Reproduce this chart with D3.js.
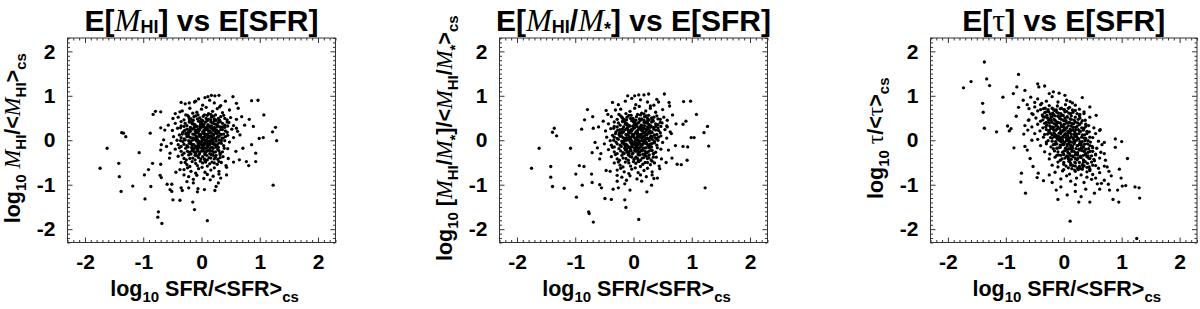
<!DOCTYPE html>
<html>
<head>
<meta charset="utf-8">
<script src="https://cdn.jsdelivr.net/npm/d3@7"></script>
<style>
body { margin: 0; background: #fff; }
svg text { font-family: "Liberation Sans", Arial, sans-serif; font-weight: bold; fill: #000; }
</style>
</head>
<body>
<div id="chart"></div>
<script>
//Axis ticks (same on all panels)
var majorTicks = [-2, -1, 0, 1, 2];

//Panel 1: log M_HI/<M_HI> vs log SFR/<SFR>, outlying points
var hiOuter = [[-1.74,-0.63],[-1.62,-0.18],[-1.37,0.17],[-1.34,0.16],[-1.3,0.08],[-1.42,-0.52],[-1.41,-0.82],
  [-1.38,-1.15],[-1.18,-1.03],[-1.07,-0.28],[-0.97,-1.32],[-0.98,-0.78],[-0.91,-0.66],[-0.87,-1.04],[-0.84,-0.52],
  [-0.88,0.16],[-0.83,0.58],[-0.79,0.65],[-0.7,0.64],[-0.74,-1.61],[-0.75,-1.73],[-0.68,-1.87],[-0.7,-0.54],
  [-0.71,-0.79],[-0.69,-0.84],[-0.59,-0.99],[-0.51,-0.99],[-0.54,-1.11],[-0.51,-1.15],[-0.49,-1.34],[-0.37,-1.35],
  [-0.35,-1.07],[-0.33,-1.13],[-0.22,-1.07],[-0.15,-1.39],[-0.12,-1.56],[-0.06,-1.09],[-0.07,-1.16],[0.05,-1.11],
  [0.1,-1.81],[0.23,-1.13],[0.25,-1.04],[0.29,-0.96],[0.43,-0.78],[0.54,0.98],[0.6,0.83],[0.63,0.72],[0.86,0.89],
  [0.97,0.9],[1.07,0.57],[1.22,0.19],[1.27,0.29],[1.29,-0.01],[1.23,-1.01],[0.93,-0.48],[0.93,-0.29],[0.81,-0.57],
  [0.77,-0.48],[1.06,0.06],[0.99,0.04],[0.86,-0.1],[0.82,0.47],[0.89,0.31],[0.74,0.34],[0.69,0.53],[0.3,1.01],
  [0.23,1.0],[0.17,1.01],[0.11,0.98],[0.06,0.96],[-0.1,0.88],[-0.21,0.84],[-0.35,0.85],[-0.37,0.64],[-0.45,0.6],
  [-0.49,0.49],[-0.57,0.34],[-0.63,0.23],[-0.7,0.28],[-0.65,0.01],[-0.69,-0.1],[-0.6,-0.14],[-0.7,-0.22],
  [-0.54,-0.29],[-0.55,-0.4],[-0.44,-0.72],[-0.37,-0.66],[-0.25,-0.93],[-0.14,-0.96],[0.15,-0.89],[0.3,-0.76],
  [0.43,-0.61],[0.55,-0.49],[0.65,-0.44],[0.59,-0.25],[0.71,-0.18],[0.66,0.12],[0.6,0.27]];

//Panel 1: central cloud
var hiCore = [[-0.28,0.82],[-0.12,0.86],[0.02,0.79],[0.14,0.9],[0.22,0.84],[0.33,0.78],[0.41,0.88],[-0.05,0.93],
  [-0.33,0.66],[-0.2,0.72],[-0.08,0.63],[0,0.7],[0.08,0.74],[0.19,0.65],[0.27,0.71],[0.36,0.62],[0.48,0.68],[-0.15,0.61],[0.12,0.6],[0.31,0.75],
  [-0.4,0.52],[-0.27,0.57],[-0.18,0.48],[-0.1,0.55],[-0.03,0.5],[0.05,0.57],[0.12,0.47],[0.2,0.54],[0.29,0.49],[0.38,0.56],[0.5,0.51],[0.6,0.47],[-0.22,0.53],[0,0.46],[0.16,0.58],[0.25,0.45],[0.44,0.46],
  [-0.45,0.38],[-0.35,0.42],[-0.25,0.33],[-0.17,0.4],[-0.11,0.35],[-0.05,0.43],[0.01,0.37],[0.07,0.41],[0.13,0.32],[0.19,0.39],[0.25,0.36],[0.32,0.42],[0.4,0.34],[0.47,0.4],[0.55,0.33],[-0.3,0.31],[-0.08,0.31],[0.04,0.3],[0.22,0.44],[0.36,0.3],[-0.2,0.45],[0.1,0.44],
  [-0.5,0.22],[-0.41,0.27],[-0.32,0.18],[-0.25,0.25],[-0.19,0.2],[-0.13,0.28],[-0.08,0.17],[-0.03,0.24],[0.02,0.19],[0.07,0.27],[0.12,0.21],[0.17,0.16],[0.23,0.26],[0.29,0.2],[0.36,0.24],[0.44,0.18],[0.52,0.25],[0.62,0.2],[-0.36,0.28],[-0.22,0.15],[-0.1,0.23],[0,0.29],[0.05,0.15],[0.15,0.29],[0.26,0.15],[0.4,0.29],[-0.16,0.25],[0.1,0.26],[0.2,0.22],[-0.05,0.2],
  [-0.48,0.08],[-0.38,0.12],[-0.3,0.03],[-0.23,0.1],[-0.17,0.05],[-0.12,0.13],[-0.07,0.02],[-0.02,0.09],[0.03,0.04],[0.08,0.12],[0.13,0.06],[0.18,0.1],[0.24,0.02],[0.3,0.09],[0.37,0.05],[0.45,0.11],[0.55,0.06],[-0.42,0],[-0.27,0.14],[-0.14,0.01],[-0.04,0.14],[0.01,0],[0.06,0.08],[0.11,0.14],[0.16,0.01],[0.21,0.13],[0.27,0.07],[0.34,0.13],[-0.2,0.07],[-0.09,0.09],[0,0.06],
  [-0.52,-0.07],[-0.4,-0.1],[-0.32,-0.03],[-0.25,-0.12],[-0.19,-0.05],[-0.13,-0.1],[-0.08,-0.02],[-0.03,-0.08],[0.02,-0.13],[0.07,-0.04],[0.12,-0.09],[0.17,-0.01],[0.23,-0.11],[0.3,-0.06],[0.38,-0.12],[0.48,-0.04],[-0.35,-0.14],[-0.22,-0.01],[-0.1,-0.14],[0,-0.03],[0.05,-0.1],[0.1,-0.14],[0.15,-0.06],[0.2,-0.04],[0.26,-0.14],[0.34,-0.01],[-0.16,-0.13],[-0.05,-0.12],[0.09,-0.01],
  [-0.45,-0.2],[-0.35,-0.25],[-0.27,-0.18],[-0.2,-0.27],[-0.14,-0.21],[-0.08,-0.16],[-0.03,-0.28],[0.03,-0.2],[0.09,-0.25],[0.15,-0.17],[0.21,-0.27],[0.28,-0.21],[0.36,-0.26],[0.45,-0.19],[-0.3,-0.29],[-0.17,-0.17],[-0.06,-0.23],[0,-0.17],[0.06,-0.29],[0.12,-0.22],[0.18,-0.24],[0.25,-0.16],[0.32,-0.29],[-0.1,-0.29],
  [-0.4,-0.36],[-0.3,-0.41],[-0.22,-0.33],[-0.15,-0.4],[-0.08,-0.35],[-0.01,-0.42],[0.06,-0.32],[0.13,-0.39],[0.2,-0.34],[0.28,-0.43],[0.37,-0.37],[-0.26,-0.44],[-0.11,-0.44],[0.02,-0.37],[0.1,-0.44],[0.16,-0.31],[0.24,-0.38],[0.46,-0.41],
  [-0.35,-0.5],[-0.25,-0.55],[-0.16,-0.48],[-0.07,-0.57],[0.02,-0.51],[0.1,-0.58],[0.18,-0.49],[0.27,-0.54],[-0.2,-0.59],[-0.02,-0.47],[0.06,-0.46],[0.14,-0.53],[0.34,-0.5],[0.42,-0.57],
  [-0.3,-0.66],[-0.18,-0.7],[-0.05,-0.64],[0.06,-0.72],[0.16,-0.67],[0.3,-0.7],[-0.1,-0.74],[0.22,-0.62],[0.01,-0.61],[-0.24,-0.62],
  [-0.22,-0.82],[-0.08,-0.79],[0.04,-0.86],[0.2,-0.81],[-0.14,-0.88],[0.1,-0.77],[0.33,-0.85],[-0.3,-0.78],
  [-0.15,0.05],[-0.1,0.18],[-0.05,-0.06],[0.04,0.16],[0.09,-0.07],[0.14,0.2],[0.19,0.05],[-0.18,-0.08],[-0.12,0.3],[-0.02,0.34],[0.05,0.22],[0.11,0.35],[0.17,0.27],[0.22,-0.08],[-0.07,-0.2],[0.02,-0.24],[0.08,-0.18],[-0.13,-0.26],[0.14,-0.3],[0.24,0.18],[-0.22,0.2],[-0.02,0.12],[0.07,0],[0.12,0.09],[-0.09,0.06],[0.03,-0.15],[0.18,-0.16],[-0.16,0.37],[0.27,0.3],[0,0.4]];

//Panel 1: solid black centre of the cloud
var hiFill = [[-0.24,0.56],[-0.13,0.53],[-0.06,0.57],[0.03,0.54],[0.1,0.56],[0.17,0.52],[0.24,0.57],[0.33,0.53],
  [-0.3,0.46],[-0.21,0.49],[-0.14,0.45],[-0.07,0.48],[0.02,0.44],[0.08,0.49],[0.16,0.46],[0.22,0.48],[0.31,0.45],[0.4,0.49],
  [-0.28,0.38],[-0.21,0.41],[-0.14,0.37],[-0.02,0.4],[0.04,0.36],[0.16,0.41],[0.22,0.37],[0.29,0.4],[0.36,0.38],[0.44,0.41],
  [-0.35,0.32],[-0.19,0.29],[-0.12,0.33],[-0.03,0.3],[0.02,0.33],[0.09,0.3],[0.17,0.32],[0.22,0.29],[0.28,0.33],[0.32,0.3],[0.45,0.32],
  [-0.29,0.22],[-0.21,0.24],[-0.11,0.21],[-0.06,0.25],[0.04,0.22],[0.09,0.24],[0.14,0.21],[0.2,0.25],[0.26,0.22],[0.33,0.24],[0.41,0.21],
  [-0.33,0.14],[-0.26,0.16],[-0.15,0.14],[-0.1,0.17],[-0.01,0.13],[0.04,0.16],[0.1,0.14],[0.15,0.17],[0.21,0.13],[0.3,0.16],[0.38,0.14],
  [-0.35,0.06],[-0.25,0.08],[-0.14,0.05],[-0.04,0.09],[0.01,0.06],[0.05,0.08],[0.1,0.05],[0.15,0.09],[0.22,0.06],[0.28,0.08],[0.35,0.05],[0.41,0.08],
  [-0.36,-0.01],[-0.28,0.01],[-0.18,-0.02],[-0.1,0.01],[-0.05,-0.02],[0.04,0.01],[0.12,-0.02],[0.19,0.01],[0.25,-0.02],[0.3,0.01],[0.4,-0.01],
  [-0.3,-0.09],[-0.21,-0.07],[-0.15,-0.1],[-0.06,-0.08],[0,-0.1],[0.04,-0.07],[0.14,-0.1],[0.19,-0.08],[0.27,-0.1],[0.34,-0.07],
  [-0.38,-0.17],[-0.23,-0.15],[-0.12,-0.18],[-0.04,-0.16],[0.05,-0.18],[0.11,-0.15],[0.2,-0.18],[0.29,-0.16],[0.39,-0.18],
  [-0.24,-0.25],[-0.16,-0.23],[-0.09,-0.26],[0,-0.24],[0.06,-0.26],[0.14,-0.23],[0.24,-0.26],[0.3,-0.24],
  [-0.33,-0.33],[-0.18,-0.31],[-0.11,-0.34],[-0.04,-0.32],[0.09,-0.34],[0.17,-0.32],[0.25,-0.34],[0.32,-0.32],
  [-0.2,-0.41],[-0.05,-0.39],[0.05,-0.42],[0.16,-0.4],[0.22,-0.42],[0.32,-0.39],
  [-0.28,-0.5],[-0.1,-0.52],[0.07,-0.49],[0.22,-0.51],[0.3,-0.48]];

//Panel 2: log (M_HI/M*)/<M_HI/M*> vs log SFR/<SFR>, outlying points
var fracOuter = [[-1.75,-0.63],[-1.62,-0.18],[-1.36,0.27],[-1.39,0.18],[-1.32,0.1],[-1.42,-0.59],[-1.42,-0.83],
  [-1.39,-1.04],[-1.19,-1.08],[-1.08,-0.18],[-0.98,-1.28],[-0.99,-0.76],[-0.93,-0.57],[-0.88,-1.01],[-0.85,-0.59],
  [-0.89,0.25],[-0.84,0.46],[-0.79,0.69],[-0.7,0.53],[-0.77,-1.61],[-0.76,-1.65],[-0.69,-1.84],[-0.71,-0.28],
  [-0.72,-0.76],[-0.71,-0.95],[-0.58,-1],[-0.55,-1.07],[-0.49,-1.31],[-0.38,-1.33],[-0.35,-1.1],[-0.26,-1.07],
  [-0.15,-1.34],[-0.13,-1.51],[-0.06,-1.12],[0.09,-1.78],[0.23,-1.16],[0.31,-1.01],[0.41,-0.85],[0.53,1.04],
  [0.61,0.85],[0.62,0.77],[0.86,0.87],[0.98,0.88],[1.08,0.58],[1.21,0.17],[1.27,0.31],[1.29,-0.13],[1.23,-1.07],
  [0.92,-0.45],[0.93,-0.15],[0.82,-0.55],[0.75,-0.54],[0.99,0.06],[1.04,0.06],[0.85,-0.14],[0.85,0.36],[0.9,0.43],
  [0.73,0.37],[0.67,0.57],[0.26,1.04],[0.18,1.02],[0.09,1.02],[-0.1,1],[-0.36,0.85],[-0.47,0.67],[-0.69,0.27],
  [-0.66,-0.05],[-0.62,-0.17],[-0.56,-0.3],[-0.58,-0.42],[-0.47,-0.68],[-0.4,-0.7],[-0.28,-0.92],[-0.15,-0.98],
  [0.14,-0.92],[0.32,-0.78],[0.45,-0.64],[0.56,-0.5],[0.66,-0.4],[0.6,-0.22],[0.72,-0.12],[0.65,0.15],[0.58,0.3],
  [-0.52,0.43],[-0.6,0.3],[-0.44,0.58],[0.02,1.0],[0.4,0.92]];

//Panel 2: central cloud
var fracCore = [[-0.26,0.8],[-0.14,0.88],[0.04,0.8],[0.12,0.91],[0.24,0.86],[0.35,0.79],[0.43,0.86],[-0.03,0.94],
  [-0.31,0.68],[-0.22,0.7],[-0.06,0.65],[0.02,0.72],[0.1,0.76],[0.21,0.66],[0.29,0.72],[0.38,0.63],[0.5,0.69],[-0.13,0.6],[0.14,0.61],[0.29,0.77],
  [-0.38,0.53],[-0.25,0.58],[-0.16,0.47],[-0.08,0.56],[-0.01,0.49],[0.07,0.58],[0.14,0.48],[0.22,0.55],[0.31,0.5],[0.4,0.55],[0.52,0.52],[0.58,0.45],[-0.2,0.52],[0.02,0.45],[0.18,0.59],[0.27,0.46],[0.46,0.47],
  [-0.43,0.37],[-0.33,0.41],[-0.23,0.34],[-0.15,0.41],[-0.09,0.34],[-0.03,0.44],[0.03,0.38],[0.09,0.4],[0.15,0.33],[0.21,0.4],[0.27,0.35],[0.34,0.43],[0.42,0.35],[0.49,0.39],[0.57,0.32],[-0.28,0.3],[-0.06,0.32],[0.06,0.31],[0.24,0.43],[0.38,0.31],[-0.18,0.44],[0.12,0.45],
  [-0.48,0.21],[-0.39,0.26],[-0.3,0.19],[-0.23,0.24],[-0.17,0.19],[-0.11,0.27],[-0.06,0.18],[-0.01,0.25],[0.04,0.18],[0.09,0.26],[0.14,0.22],[0.19,0.17],[0.25,0.25],[0.31,0.19],[0.38,0.23],[0.46,0.17],[0.54,0.24],[0.63,0.19],[-0.34,0.27],[-0.2,0.16],[-0.08,0.22],[0.02,0.28],[0.07,0.16],[0.17,0.28],[0.28,0.16],[0.42,0.28],[-0.14,0.24],[0.12,0.27],[0.22,0.21],[-0.03,0.21],
  [-0.46,0.07],[-0.36,0.11],[-0.28,0.04],[-0.21,0.09],[-0.15,0.04],[-0.1,0.12],[-0.05,0.03],[0,0.1],[0.05,0.03],[0.1,0.11],[0.15,0.05],[0.2,0.11],[0.26,0.03],[0.32,0.08],[0.39,0.04],[0.47,0.1],[0.57,0.05],[-0.4,-0.01],[-0.25,0.13],[-0.12,0],[-0.02,0.13],[0.03,-0.01],[0.08,0.07],[0.13,0.13],[0.18,0],[0.23,0.12],[0.29,0.06],[0.36,0.12],[-0.18,0.06],[-0.07,0.08],[0.02,0.05],
  [-0.5,-0.08],[-0.38,-0.11],[-0.3,-0.04],[-0.23,-0.11],[-0.17,-0.06],[-0.11,-0.11],[-0.06,-0.03],[-0.01,-0.09],[0.04,-0.12],[0.09,-0.05],[0.14,-0.1],[0.19,-0.02],[0.25,-0.12],[0.32,-0.07],[0.4,-0.11],[0.5,-0.05],[-0.33,-0.15],[-0.2,-0.02],[-0.08,-0.15],[0.02,-0.04],[0.07,-0.11],[0.12,-0.15],[0.17,-0.07],[0.22,-0.05],[0.28,-0.15],[0.36,-0.02],[-0.14,-0.14],[-0.03,-0.13],[0.11,-0.02],
  [-0.43,-0.21],[-0.33,-0.26],[-0.25,-0.19],[-0.18,-0.28],[-0.12,-0.22],[-0.06,-0.17],[-0.01,-0.29],[0.05,-0.21],[0.11,-0.26],[0.17,-0.18],[0.23,-0.28],[0.3,-0.22],[0.38,-0.27],[0.47,-0.2],[-0.28,-0.3],[-0.15,-0.18],[-0.04,-0.24],[0.02,-0.18],[0.08,-0.3],[0.14,-0.23],[0.2,-0.25],[0.27,-0.17],[0.34,-0.3],[-0.08,-0.3],
  [-0.38,-0.37],[-0.28,-0.42],[-0.2,-0.34],[-0.13,-0.41],[-0.06,-0.36],[0.01,-0.43],[0.08,-0.33],[0.15,-0.4],[0.22,-0.35],[0.3,-0.44],[0.39,-0.38],[-0.24,-0.45],[-0.09,-0.45],[0.04,-0.38],[0.12,-0.45],[0.18,-0.32],[0.26,-0.39],[0.48,-0.42],
  [-0.33,-0.51],[-0.23,-0.56],[-0.14,-0.49],[-0.05,-0.58],[0.04,-0.52],[0.12,-0.59],[0.2,-0.5],[0.29,-0.55],[-0.18,-0.6],[0,-0.48],[0.08,-0.47],[0.16,-0.54],[0.36,-0.51],[0.44,-0.58],
  [-0.28,-0.67],[-0.16,-0.71],[-0.03,-0.65],[0.08,-0.73],[0.18,-0.68],[0.32,-0.71],[-0.08,-0.75],[0.24,-0.63],[0.03,-0.62],[-0.22,-0.63],
  [-0.2,-0.83],[-0.06,-0.8],[0.06,-0.87],[0.22,-0.82],[-0.12,-0.9],[0.12,-0.78],[0.35,-0.86],[-0.28,-0.79],
  [-0.13,0.04],[-0.08,0.17],[-0.03,-0.07],[0.06,0.15],[0.11,-0.08],[0.16,0.19],[0.21,0.04],[-0.16,-0.09],[-0.1,0.29],[0,0.33],[0.07,0.21],[0.13,0.34],[0.19,0.26],[0.24,-0.09],[-0.05,-0.21],[0.04,-0.25],[0.1,-0.19],[-0.11,-0.27],[0.16,-0.31],[0.26,0.17],[-0.2,0.19],[0,0.11],[0.09,-0.01],[0.14,0.08],[-0.07,0.05],[0.05,-0.16],[0.2,-0.17],[-0.14,0.36],[0.29,0.29],[0.02,0.39]];

//Panel 2: solid black centre of the cloud
var fracFill = [[-0.22,0.55],[-0.11,0.52],[-0.04,0.56],[0.05,0.53],[0.12,0.57],[0.19,0.53],[0.26,0.56],[0.35,0.52],
  [-0.28,0.47],[-0.19,0.5],[-0.12,0.46],[-0.05,0.49],[0.04,0.45],[0.1,0.48],[0.18,0.45],[0.24,0.49],[0.33,0.46],[0.42,0.48],
  [-0.26,0.39],[-0.19,0.42],[-0.12,0.38],[0,0.41],[0.06,0.37],[0.18,0.4],[0.24,0.38],[0.31,0.41],[0.38,0.37],[0.46,0.4],
  [-0.33,0.31],[-0.17,0.3],[-0.1,0.34],[-0.01,0.31],[0.04,0.34],[0.11,0.29],[0.19,0.33],[0.24,0.3],[0.3,0.32],[0.34,0.29],[0.47,0.31],
  [-0.27,0.23],[-0.19,0.25],[-0.09,0.22],[-0.04,0.24],[0.06,0.21],[0.11,0.25],[0.16,0.22],[0.22,0.24],[0.28,0.21],[0.35,0.25],[0.43,0.22],
  [-0.31,0.15],[-0.24,0.17],[-0.13,0.13],[-0.08,0.16],[0.01,0.14],[0.06,0.17],[0.12,0.13],[0.17,0.16],[0.23,0.14],[0.32,0.17],[0.4,0.13],
  [-0.33,0.07],[-0.23,0.09],[-0.12,0.06],[-0.02,0.08],[0.03,0.05],[0.07,0.09],[0.12,0.06],[0.17,0.08],[0.24,0.05],[0.3,0.09],[0.37,0.06],[0.43,0.07],
  [-0.34,0],[-0.26,0.02],[-0.16,-0.01],[-0.08,0.02],[-0.03,-0.01],[0.06,0.02],[0.14,-0.01],[0.21,0.02],[0.27,-0.01],[0.32,0.02],[0.42,0],
  [-0.28,-0.08],[-0.19,-0.06],[-0.13,-0.09],[-0.04,-0.07],[0.02,-0.09],[0.06,-0.06],[0.16,-0.09],[0.21,-0.07],[0.29,-0.09],[0.36,-0.06],
  [-0.36,-0.16],[-0.21,-0.14],[-0.1,-0.17],[-0.02,-0.15],[0.07,-0.17],[0.13,-0.14],[0.22,-0.17],[0.31,-0.15],[0.41,-0.17],
  [-0.22,-0.24],[-0.14,-0.22],[-0.07,-0.25],[0.02,-0.23],[0.08,-0.25],[0.16,-0.22],[0.26,-0.25],[0.32,-0.23],
  [-0.31,-0.32],[-0.16,-0.3],[-0.09,-0.33],[-0.02,-0.31],[0.11,-0.33],[0.19,-0.31],[0.27,-0.33],[0.34,-0.31],
  [-0.18,-0.4],[-0.03,-0.38],[0.07,-0.41],[0.18,-0.39],[0.24,-0.41],[0.34,-0.38],
  [-0.26,-0.49],[-0.08,-0.51],[0.09,-0.48],[0.24,-0.5],[0.32,-0.47]];

//Panel 3: log tau/<tau> vs log SFR/<SFR>, outlying points
var tauOuter = [[-1.73,1.18],[-1.6,1.32],[-1.37,1.76],[-1.33,1.38],[-1.28,1.23],[-1.4,0.83],[-1.39,0.63],
  [-1.37,0.27],[-1.16,0.19],[-0.97,0.32],[-0.94,0.21],[-0.91,0.26],[-1.05,0.97],[-0.78,1.48],[-0.81,1.2],
  [-0.87,1.05],[-0.78,0.74],[-0.82,0.54],[-0.86,-0.17],[-0.69,0.14],[-0.73,-0.74],[-0.74,-0.94],[-0.66,-1.19],
  [-0.67,1.12],[-0.57,0.97],[-0.45,1.27],[-0.43,1.2],[-0.33,1.22],[-0.18,1.09],[-0.08,1.06],[0.02,1.01],
  [0.32,0.96],[0.11,0.87],[0.56,0.56],[0.63,0.24],[0.89,0.03],[1,-0.03],[0.89,-0.16],[1.1,-0.41],[0.96,-0.65],
  [0.99,-0.85],[1.23,-1.05],[1.3,-1.07],[1.31,-1.3],[0.95,-1.39],[0.85,-1.33],[0.79,-1.12],[0.93,-1.12],
  [1.01,-1.03],[1.07,-1.02],[0.45,-1.39],[0.26,-1.39],[0.3,-1.27],[0.06,-1.23],[-0.1,-1.33],[-0.13,-1.12],
  [0.11,-1.82],[0.53,-1.19],[0.65,-0.97],[0.77,-0.99],[0.62,-1.1],[-0.44,-0.74],[-0.46,-0.84],[-0.35,-0.91],
  [-0.53,-0.59],[-0.58,-0.41],[-0.63,-0.22],[-0.67,-0.14],[-0.55,0],[-0.62,0.23],[-0.67,0.33],[-0.61,0.45],
  [-0.53,0.58],[-0.63,0.8],[1.26,-2.21],[0.7,-0.3],[0.75,-0.6],[0.82,-0.8],[0.55,-0.85],[0.38,-1.1],[0.2,-1.15],
  [-0.05,-1.05],[0.45,0.75],[0.35,0.6],[-0.25,1.05],[-0.7,0.9],[-0.5,0.85],[0.7,-0.05]];

//Panel 3: central cloud (anti-correlated)
var tauCore = [[-0.45,0.93],[-0.3,0.88],[-0.2,0.98],[-0.1,0.86],[0.05,0.9],[-0.38,0.83],[0.15,0.84],
  [-0.5,0.75],[-0.4,0.8],[-0.32,0.72],[-0.25,0.78],[-0.18,0.7],[-0.11,0.77],[-0.04,0.72],[0.03,0.8],[0.1,0.74],[0.2,0.79],[-0.6,0.71],[0.27,0.7],
  [-0.55,0.6],[-0.45,0.66],[-0.37,0.57],[-0.3,0.64],[-0.23,0.59],[-0.16,0.67],[-0.09,0.61],[-0.02,0.56],[0.05,0.65],[0.12,0.6],[0.2,0.67],[0.28,0.58],[-0.4,0.69],[-0.2,0.55],[0,0.69],[0.35,0.64],
  [-0.6,0.46],[-0.48,0.5],[-0.4,0.43],[-0.33,0.52],[-0.26,0.45],[-0.2,0.53],[-0.13,0.42],[-0.07,0.49],[0,0.44],[0.06,0.52],[0.13,0.47],[0.2,0.41],[0.28,0.5],[0.37,0.45],[-0.3,0.4],[-0.1,0.54],[0.09,0.4],[0.45,0.52],[-0.17,0.47],[0.02,0.5],
  [-0.55,0.3],[-0.45,0.36],[-0.36,0.28],[-0.29,0.34],[-0.22,0.27],[-0.16,0.37],[-0.1,0.3],[-0.04,0.35],[0.02,0.27],[0.08,0.33],[0.14,0.38],[0.2,0.29],[0.27,0.35],[0.35,0.27],[0.43,0.33],[0.52,0.28],[-0.25,0.39],[-0.07,0.26],[0.05,0.39],[0.11,0.25],[0.3,0.39],[-0.13,0.33],[-0.01,0.31],
  [-0.5,0.15],[-0.41,0.21],[-0.33,0.13],[-0.26,0.19],[-0.2,0.12],[-0.14,0.22],[-0.08,0.16],[-0.02,0.2],[0.04,0.12],[0.1,0.18],[0.16,0.23],[0.22,0.14],[0.29,0.2],[0.36,0.12],[0.44,0.19],[0.55,0.15],[-0.3,0.24],[-0.11,0.1],[0,0.24],[0.07,0.1],[0.19,0.19],[0.25,0.24],[-0.17,0.17],[0.13,0.14],[0.62,0.22],
  [-0.45,0.02],[-0.35,0.07],[-0.27,-0.01],[-0.2,0.05],[-0.14,-0.03],[-0.08,0.08],[-0.02,0],[0.04,0.06],[0.1,-0.02],[0.16,0.04],[0.22,0.09],[0.28,-0.03],[0.35,0.05],[0.42,-0.01],[0.5,0.06],[-0.3,-0.04],[-0.11,0.03],[0.01,-0.05],[0.07,0.02],[0.13,0.08],[0.19,-0.04],[0.26,0.03],[0.6,-0.02],[-0.05,0.05],
  [-0.4,-0.12],[-0.3,-0.08],[-0.22,-0.15],[-0.15,-0.09],[-0.09,-0.17],[-0.03,-0.1],[0.03,-0.18],[0.09,-0.07],[0.15,-0.13],[0.21,-0.19],[0.27,-0.09],[0.34,-0.15],[0.41,-0.08],[0.49,-0.14],[0.57,-0.18],[-0.18,-0.19],[0,-0.06],[0.06,-0.13],[0.12,-0.19],[0.24,-0.12],[0.3,-0.18],[0.38,-0.2],[0.66,-0.1],
  [-0.33,-0.26],[-0.24,-0.31],[-0.16,-0.24],[-0.09,-0.33],[-0.02,-0.27],[0.04,-0.22],[0.1,-0.3],[0.17,-0.25],[0.24,-0.33],[0.31,-0.23],[0.38,-0.3],[0.46,-0.25],[0.55,-0.31],[0.64,-0.27],[-0.05,-0.34],[0.07,-0.35],[0.14,-0.21],[0.2,-0.28],[0.27,-0.22],[0.34,-0.34],[0.42,-0.35],
  [-0.25,-0.42],[-0.15,-0.38],[-0.06,-0.45],[0.02,-0.4],[0.09,-0.47],[0.16,-0.37],[0.23,-0.44],[0.3,-0.39],[0.37,-0.48],[0.45,-0.41],[0.53,-0.46],[0.62,-0.4],[0.72,-0.45],[0.05,-0.36],[0.19,-0.49],[0.27,-0.5],[-0.1,-0.49],[0.4,-0.37],
  [-0.2,-0.56],[-0.1,-0.6],[0,-0.54],[0.08,-0.62],[0.16,-0.57],[0.24,-0.63],[0.32,-0.55],[0.4,-0.61],[0.5,-0.56],[0.6,-0.63],[0.7,-0.58],[0.12,-0.52],[0.28,-0.64],[0.45,-0.65],
  [-0.15,-0.72],[-0.02,-0.69],[0.1,-0.76],[0.2,-0.7],[0.3,-0.78],[0.4,-0.71],[0.5,-0.77],[0.62,-0.73],[0.05,-0.8],[0.25,-0.66],[0.78,-0.7],[-0.25,-0.78],
  [-0.05,-0.87],[0.12,-0.92],[0.22,-0.85],[0.35,-0.95],[0.48,-0.88],[0.58,-0.98],[0.7,-0.9],[0.2,-1],[-0.2,-0.95],[0.4,-0.83],
  [-0.2,0.3],[-0.12,0.25],[-0.05,0.18],[0.03,0.15],[0.1,0.05],[0.17,-0.05],[0.23,-0.12],[0.08,-0.2],[0,-0.1],[-0.08,0.02],[-0.15,0.12],[-0.22,0.45],[-0.1,0.4],[0.05,0.28],[0.13,0.22],[0.2,0.1],[0.3,-0.08],[0.15,-0.35],[0.25,-0.4],[0.35,-0.25],[-0.18,0.58],[-0.05,0.55],[0.08,-0.42],[0.2,-0.58],[0.33,-0.6],[-0.28,0.5],[0.05,0],[-0.02,0.08],[0.12,-0.12],[0.18,0]];

//Panel 3: solid black band along the diagonal
var tauFill = [[-0.35,0.71],[-0.27,0.69],[-0.2,0.72],[-0.13,0.68],[-0.06,0.71],[0.01,0.69],[0.08,0.72],[0.15,0.68],
  [-0.33,0.62],[-0.26,0.64],[-0.19,0.61],[-0.12,0.63],[-0.05,0.6],[0.02,0.64],[0.09,0.61],[0.16,0.63],[0.23,0.6],
  [-0.36,0.54],[-0.29,0.56],[-0.22,0.53],[-0.15,0.55],[-0.08,0.52],[-0.01,0.56],[0.06,0.53],[0.13,0.55],[0.2,0.52],[0.27,0.55],
  [-0.36,0.46],[-0.23,0.48],[-0.15,0.45],[-0.04,0.47],[0.04,0.44],[0.11,0.48],[0.18,0.45],[0.25,0.47],[0.32,0.44],
  [-0.33,0.38],[-0.2,0.4],[-0.12,0.37],[-0.06,0.39],[0.01,0.36],[0.1,0.4],[0.17,0.37],[0.24,0.39],[0.38,0.36],
  [-0.31,0.3],[-0.24,0.32],[-0.17,0.29],[-0.04,0.31],[0.05,0.28],[0.13,0.32],[0.16,0.29],[0.23,0.31],[0.31,0.28],[0.38,0.31],
  [-0.25,0.22],[-0.18,0.24],[-0.05,0.21],[0.02,0.23],[0.07,0.2],[0.21,0.24],[0.27,0.21],[0.34,0.23],[0.4,0.2],
  [-0.28,0.14],[-0.23,0.16],[-0.15,0.13],[-0.05,0.15],[0.01,0.12],[0.08,0.16],[0.18,0.13],[0.26,0.15],[0.32,0.12],[0.4,0.15],
  [-0.23,0.06],[-0.16,0.08],[-0.12,0.05],[-0.01,0.07],[0.09,0.04],[0.19,0.08],[0.24,0.05],[0.31,0.07],[0.38,0.04],[0.45,0.07],
  [-0.2,-0.02],[-0.08,0],[-0.05,-0.03],[0.05,-0.01],[0.13,-0.04],[0.22,0],[0.32,-0.03],[0.37,-0.01],[0.46,-0.04],
  [-0.18,-0.1],[-0.12,-0.08],[-0.06,-0.11],[0.06,-0.09],[0.12,-0.12],[0.18,-0.08],[0.3,-0.11],[0.36,-0.09],[0.45,-0.12],
  [-0.12,-0.18],[-0.06,-0.16],[0.09,-0.19],[0.15,-0.17],[0.26,-0.2],[0.33,-0.16],[0.43,-0.19],[0.5,-0.17],
  [-0.1,-0.26],[0.01,-0.24],[0.07,-0.27],[0.14,-0.25],[0.24,-0.28],[0.35,-0.24],[0.42,-0.27],[0.5,-0.25],
  [-0.12,-0.34],[0,-0.32],[0.12,-0.35],[0.2,-0.33],[0.29,-0.36],[0.38,-0.32],[0.48,-0.35],[0.55,-0.33],
  [-0.03,-0.42],[0.08,-0.4],[0.13,-0.43],[0.2,-0.41],[0.34,-0.44],[0.43,-0.4],[0.52,-0.43],
  [0,-0.5],[0.1,-0.48],[0.2,-0.51],[0.34,-0.49],[0.41,-0.52],[0.48,-0.49],
  [0.04,-0.58],[0.12,-0.56],[0.27,-0.59],[0.35,-0.57],[0.44,-0.6],[0.55,-0.57],
  [0,-0.66],[0.14,-0.64],[0.19,-0.67],[0.32,-0.65],[0.45,-0.68]];

//Text pieces: [text, kind] n = bold sans, i = italic serif, g = serif, s = subscript, a = subscript asterisk
var xTitle = [["log","n"],["10","s"],[" SFR/<SFR>","n"],["cs","s"]];
var panels = [
  {left: 67.5, right: 335.5, data: hiOuter.concat(hiCore, hiFill),
   title: [["E[","n"],["M","i"],["HI","s"],["] vs E[SFR]","n"]],
   ytitle: [["log","n"],["10","s"],[" ","n"],["M","i"],["HI","s"],["/<","n"],["M","i"],["HI","s"],[">","n"],["cs","s"]]},
  {left: 499.5, right: 767.5, data: fracOuter.concat(fracCore, fracFill),
   title: [["E[","n"],["M","i"],["HI","s"],["/","n"],["M","i"],["*","a"],["] vs E[SFR]","n"]],
   ytitle: [["log","n"],["10","s"],[" [","n"],["M","i"],["HI","s"],["/","n"],["M","i"],["*","a"],["]/<","n"],["M","i"],["HI","s"],["/","n"],["M","i"],["*","a"],[">","n"],["cs","s"]]},
  {left: 930.5, right: 1197, data: tauOuter.concat(tauCore, tauFill),
   title: [["E[","n"],["\u03c4","g"],["] vs E[SFR]","n"]],
   ytitle: [["log","n"],["10","s"],[" ","n"],["\u03c4","g"],["/<","n"],["\u03c4","g"],[">","n"],["cs","s"]]}
];

var svgWidth = 1200;
var svgHeight = 309;
var plotTop = 38;
var plotBottom = 242.5;
var serif = '"Liberation Serif", "Times New Roman", serif';

var svg = d3.select("#chart")
    .append("svg")
    .attr("width", svgWidth)
    .attr("height", svgHeight);

//Write text made of several styled pieces, shifting subscripts down with dy
function richText(textSel, parts, size, subSize, subDy) {
    var shift = 0;
    parts.forEach(function(p) {
        var target = (p[1] === "s") ? subDy : (p[1] === "a" ? subDy + 2 : 0);
        var t = textSel.append("tspan").text(p[0]).attr("dy", target - shift);
        shift = target;
        if (p[1] === "i") {
            t.style("font-family", serif).style("font-style", "italic").style("font-weight", "normal").style("font-size", (size + 1) + "px");
        } else if (p[1] === "g") {
            t.style("font-family", serif).style("font-weight", "normal").style("font-size", (size + 2) + "px");
        } else if (p[1] === "s" || p[1] === "a") {
            t.style("font-size", subSize + "px");
        } else {
            t.style("font-size", size + "px");
        }
    });
}

var minorTicks = d3.range(-23, 24).map(d => d / 10).filter(d => Math.abs(d * 10 % 10) > 0.01);

panels.forEach(function(p) {
    var x = d3.scaleLinear().domain([-2.3, 2.3]).range([p.left, p.right]);
    var y = d3.scaleLinear().domain([-2.3, 2.3]).range([plotBottom, plotTop]);
    var g = svg.append("g");

    //Points
    g.append("g").selectAll("circle")
        .data(p.data)
        .enter()
        .append("circle")
        .attr("cx", d => x(d[0]))
        .attr("cy", d => y(d[1]))
        .attr("r", 1.65)
        .attr("fill", "#000");

    //Inward ticks on all four sides
    var axes = [
        [d3.axisBottom(x), `translate(0,${plotBottom})`, majorTicks, 5, true],
        [d3.axisBottom(x), `translate(0,${plotBottom})`, minorTicks, 2.5, false],
        [d3.axisTop(x), `translate(0,${plotTop})`, majorTicks, 5, false],
        [d3.axisTop(x), `translate(0,${plotTop})`, minorTicks, 2.5, false],
        [d3.axisLeft(y), `translate(${p.left},0)`, majorTicks, 5, true],
        [d3.axisLeft(y), `translate(${p.left},0)`, minorTicks, 2.5, false],
        [d3.axisRight(y), `translate(${p.right},0)`, majorTicks, 5, false],
        [d3.axisRight(y), `translate(${p.right},0)`, minorTicks, 2.5, false]
    ];
    axes.forEach(function(a) {
        var ax = a[0].tickValues(a[2]).tickSizeInner(-a[3]).tickSizeOuter(0)
            .tickPadding(a[4] ? 12 : 0)
            .tickFormat(a[4] ? (d => String(d)) : "");
        var ag = g.append("g").attr("transform", a[1]).call(ax);
        ag.select(".domain").remove();
        ag.selectAll("line").attr("stroke", "#333").attr("stroke-width", 1);
        ag.selectAll("text").attr("font-size", 21).attr("font-family", null).attr("fill", "#000");
    });

    //Frame
    g.append("rect")
        .attr("x", p.left)
        .attr("y", plotTop)
        .attr("width", p.right - p.left)
        .attr("height", plotBottom - plotTop)
        .attr("fill", "none")
        .attr("stroke", "#333")
        .attr("stroke-width", 1);

    var cx = (p.left + p.right) / 2;

    //Title
    var t = g.append("text").attr("x", cx).attr("y", 30.5).attr("text-anchor", "middle");
    richText(t, p.title, 30, 18, 2);

    //x axis title
    var xt = g.append("text").attr("x", cx + 3).attr("y", 296).attr("text-anchor", "middle");
    richText(xt, xTitle, 21.5, 15, 6);

    //y axis title
    var yt = g.append("text")
        .attr("transform", `translate(${p.left - 48}, ${(plotTop + plotBottom) / 2 - 2}) rotate(-90)`)
        .attr("text-anchor", "middle");
    richText(yt, p.ytitle, 21.5, 15, 6);
});
</script>
</body>
</html>
